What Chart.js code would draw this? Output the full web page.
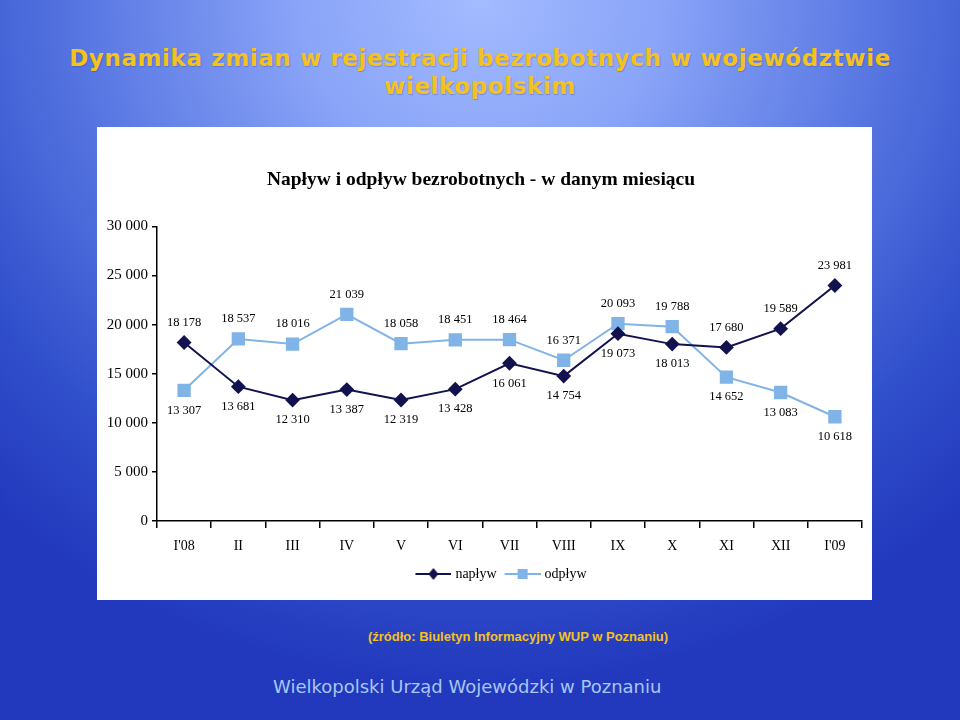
<!DOCTYPE html>
<html>
<head>
<meta charset="utf-8">
<script src="https://cdn.jsdelivr.net/npm/chart.js@4.4.0/dist/chart.umd.min.js"></script>
<style>
  html, body { margin: 0; padding: 0; }
  body {
    width: 960px; height: 720px; overflow: hidden; position: relative;
    background: radial-gradient(ellipse 75% 95% at 50% 0%, #a3bbff 0%, #8aa4f8 25%, #5877e2 55%, #3150cc 80%, #2239bd 100%);
    font-family: "DejaVu Sans", sans-serif;
  }
  .title {
    position: absolute; left: 0; width: 960px; top: 44px;
    text-align: center; color: #f4c21c; font-weight: bold; font-size: 23px;
    letter-spacing: 0.6px;
    line-height: 28px; font-family: "DejaVu Sans", sans-serif;
    text-shadow: 1px 1px 1px rgba(60, 60, 120, 0.3);
  }
  .panel {
    position: absolute; left: 97px; top: 127px; width: 775px; height: 473px;
    background: #fff;
  }
  .zrodlo {
    position: absolute; left: 0; width: 1036px; top: 629px; text-align: center;
    color: #f4c21c; font-family: "Liberation Sans", Arial, sans-serif; font-weight: bold; font-size: 13px;
  }
  .stopka {
    position: absolute; left: 273px; top: 676px; color: #a8c6f6;
    font-family: "DejaVu Sans", sans-serif; font-size: 18px;
  }
</style>
</head>
<body>
<div class="title">Dynamika zmian w rejestracji bezrobotnych w województwie<br>wielkopolskim</div>
<div class="panel"><canvas id="chartLine" width="775" height="473"></canvas></div>
<div class="zrodlo">(źródło: Biuletyn Informacyjny WUP w Poznaniu)</div>
<div class="stopka">Wielkopolski Urząd Wojewódzki w Poznaniu</div>

<script>
var miesiace = ["I'08", "II", "III", "IV", "V", "VI", "VII", "VIII", "IX", "X", "XI", "XII", "I'09"];
var naplyw = [18178, 13681, 12310, 13387, 12319, 13428, 16061, 14754, 19073, 18013, 17680, 19589, 23981];
var odplyw = [13307, 18537, 18016, 21039, 18058, 18451, 18464, 16371, 20093, 19788, 14652, 13083, 10618];
var osY = [0, 5000, 10000, 15000, 20000, 25000, 30000];

var kolorNaplyw = '#12124e';
var kolorOdplyw = '#80b3e6';

// format "18 178"
function fmt(v) {
    return String(v).replace(/\B(?=(\d{3})+(?!\d))/g, ' ');
}

// ikonka do legendy: linia + znacznik (3px przesuniecia w lewo, bo obrazek jest centrowany)
function ikonka(kolor, ksztalt) {
    var c = document.createElement('canvas');
    c.width = 39; c.height = 14;
    var ctx = c.getContext('2d');
    ctx.strokeStyle = kolor;
    ctx.lineWidth = 2;
    ctx.beginPath(); ctx.moveTo(3, 7); ctx.lineTo(39, 7); ctx.stroke();
    ctx.fillStyle = kolor;
    ctx.beginPath();
    if (ksztalt === 'romb') {
        ctx.moveTo(21, 1); ctx.lineTo(26, 7); ctx.lineTo(21, 13); ctx.lineTo(16, 7);
    } else {
        ctx.rect(16, 2, 10, 10);
    }
    ctx.closePath(); ctx.fill();
    return c;
}
var ikony = [ikonka(kolorNaplyw, 'romb'), ikonka(kolorOdplyw, 'kwadrat')];

// etykiety wartosci przy punktach
var etykiety = {
    id: 'etykiety',
    afterLayout: function (chart) {
        // legenda w oryginale jest troche na prawo od srodka
        chart.legend.left += 20;
        chart.legend.right += 20;
    },
    afterDatasetsDraw: function (chart) {
        var ctx = chart.ctx;
        ctx.save();
        ctx.font = '12.5px "Liberation Serif"';
        ctx.fillStyle = '#000';
        ctx.textAlign = 'center';
        ctx.textBaseline = 'middle';
        var serie = [naplyw, odplyw];
        chart.data.datasets.forEach(function (ds, d) {
            var meta = chart.getDatasetMeta(d);
            var inna = serie[1 - d];
            meta.data.forEach(function (pt, i) {
                var nad = serie[d][i] > inna[i];
                var y = nad ? pt.y - 20 : pt.y + 20;
                ctx.fillText(fmt(serie[d][i]), pt.x, y);
            });
        });
        ctx.restore();
    }
};

Chart.defaults.font.family = '"Liberation Serif", "Times New Roman", serif';
Chart.defaults.color = '#000';

var chartInstance = new Chart(document.getElementById('chartLine'), {
    type: 'line',
    data: {
        labels: miesiace,
        datasets: [{
            label: 'napływ',
            data: naplyw,
            borderColor: kolorNaplyw,
            backgroundColor: kolorNaplyw,
            borderWidth: 2,
            pointStyle: 'rectRot',
            pointRadius: 6,
            pointHoverRadius: 6
        }, {
            label: 'odpływ',
            data: odplyw,
            borderColor: kolorOdplyw,
            backgroundColor: kolorOdplyw,
            borderWidth: 2,
            pointStyle: 'rect',
            pointRadius: 8,
            pointHoverRadius: 8
        }]
    },
    options: {
        responsive: false,
        animation: false,
        layout: { padding: { left: 0, right: 7, top: 0, bottom: 9 } },
        scales: {
            x: {
                offset: true,
                grid: { offset: true, drawOnChartArea: false, drawTicks: true, tickLength: 7, color: '#000', lineWidth: 1.5 },
                border: { display: true, color: '#000', width: 1.5 },
                ticks: { font: { size: 14 }, padding: 10 },
                afterFit: function (scale) { scale.height = 38; }
            },
            y: {
                min: 0,
                max: 30000,
                afterBuildTicks: function (scale) {
                    scale.ticks = osY.map(function (v) { return { value: v }; });
                },
                grid: { drawOnChartArea: false, drawTicks: true, tickLength: 5, color: '#000', lineWidth: 1.5 },
                border: { display: true, color: '#000', width: 1.5 },
                ticks: { font: { size: 15 }, padding: 4, callback: function (v) { return fmt(v); } },
                afterFit: function (scale) { scale.width = 60; }
            }
        },
        plugins: {
            title: {
                display: true,
                text: 'Napływ i odpływ bezrobotnych - w danym miesiącu',
                font: { size: 19.5, weight: 'bold' },
                color: '#000',
                padding: { top: 41, bottom: 35 }
            },
            legend: {
                position: 'bottom',
                labels: {
                    usePointStyle: true,
                    pointStyleWidth: 33,
                    font: { size: 14 },
                    padding: 8,
                    generateLabels: function (chart) {
                        var items = Chart.defaults.plugins.legend.labels.generateLabels(chart);
                        items.forEach(function (it, i) { it.pointStyle = ikony[i]; });
                        return items;
                    }
                }
            },
            tooltip: { enabled: false }
        }
    },
    plugins: [etykiety]
});
</script>
</body>
</html>
